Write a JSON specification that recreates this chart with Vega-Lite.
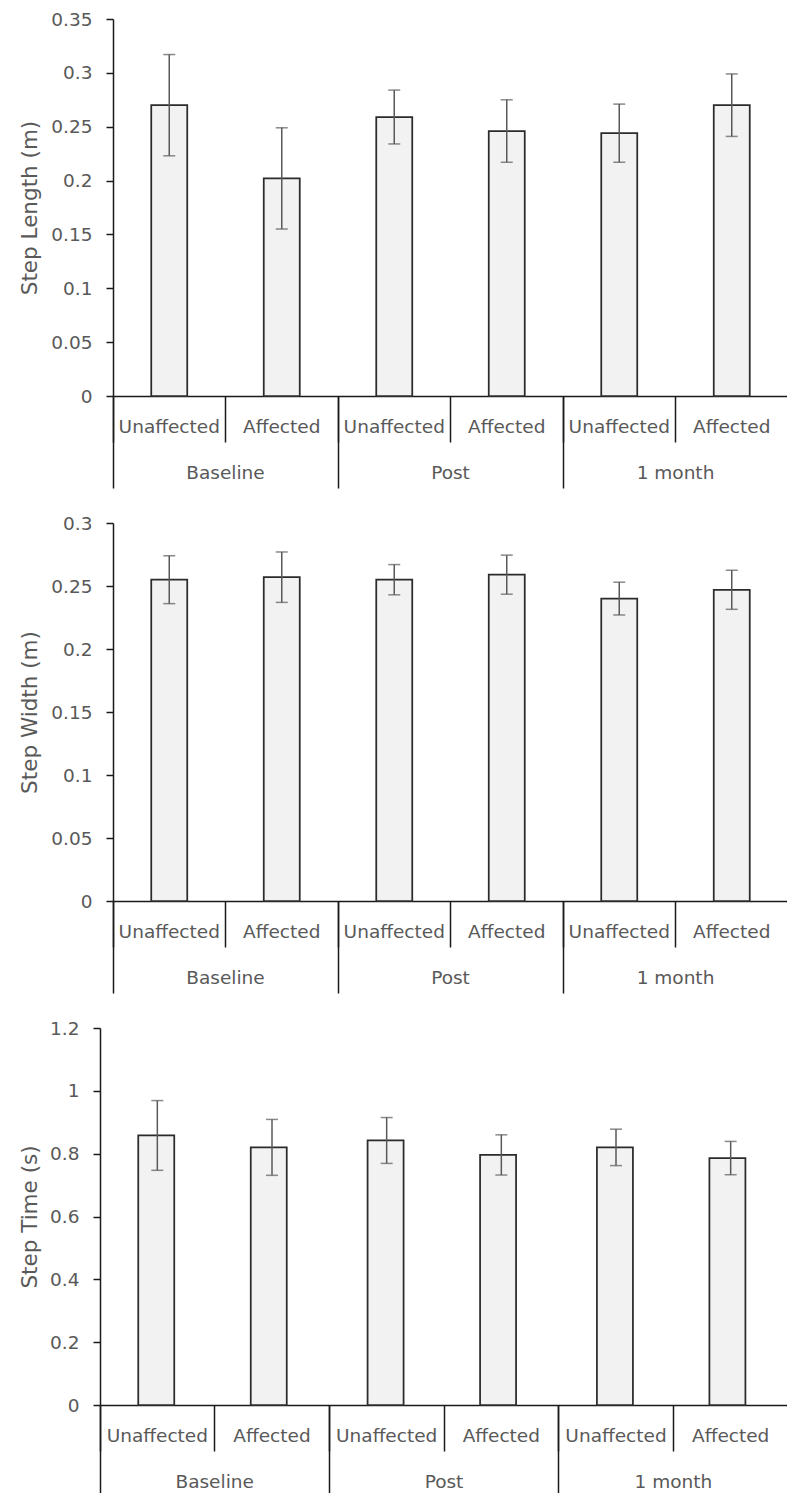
{
  "$schema": "https://vega.github.io/schema/vega-lite/v6.json",
  "padding": {"left": 19, "top": 10, "right": 0, "bottom": 0},
  "datasets": {
    "length": [
      {"time": "Baseline", "side": "Unaffected", "cond": "Baseline/Unaffected", "mean": 0.270, "err": 0.047},
      {"time": "Baseline", "side": "Affected", "cond": "Baseline/Affected", "mean": 0.202, "err": 0.047},
      {"time": "Post", "side": "Unaffected", "cond": "Post/Unaffected", "mean": 0.259, "err": 0.025},
      {"time": "Post", "side": "Affected", "cond": "Post/Affected", "mean": 0.246, "err": 0.029},
      {"time": "1 month", "side": "Unaffected", "cond": "1 month/Unaffected", "mean": 0.244, "err": 0.027},
      {"time": "1 month", "side": "Affected", "cond": "1 month/Affected", "mean": 0.270, "err": 0.029}
    ],
    "width": [
      {"time": "Baseline", "side": "Unaffected", "cond": "Baseline/Unaffected", "mean": 0.255, "err": 0.019},
      {"time": "Baseline", "side": "Affected", "cond": "Baseline/Affected", "mean": 0.257, "err": 0.020},
      {"time": "Post", "side": "Unaffected", "cond": "Post/Unaffected", "mean": 0.255, "err": 0.012},
      {"time": "Post", "side": "Affected", "cond": "Post/Affected", "mean": 0.259, "err": 0.0155},
      {"time": "1 month", "side": "Unaffected", "cond": "1 month/Unaffected", "mean": 0.240, "err": 0.013},
      {"time": "1 month", "side": "Affected", "cond": "1 month/Affected", "mean": 0.247, "err": 0.0155}
    ],
    "steptime": [
      {"time": "Baseline", "side": "Unaffected", "cond": "Baseline/Unaffected", "mean": 0.858, "err": 0.111},
      {"time": "Baseline", "side": "Affected", "cond": "Baseline/Affected", "mean": 0.820, "err": 0.089},
      {"time": "Post", "side": "Unaffected", "cond": "Post/Unaffected", "mean": 0.842, "err": 0.073},
      {"time": "Post", "side": "Affected", "cond": "Post/Affected", "mean": 0.796, "err": 0.064},
      {"time": "1 month", "side": "Unaffected", "cond": "1 month/Unaffected", "mean": 0.820, "err": 0.058},
      {"time": "1 month", "side": "Affected", "cond": "1 month/Affected", "mean": 0.786, "err": 0.053}
    ]
  },
  "spacing": 25,
  "vconcat": [
    {
      "width": 688, "height": 377,
      "data": {"name": "length"},
      "layer": [
        {
          "mark": {"type": "bar", "fill": "#f2f2f2", "stroke": "#2b2b2b", "strokeWidth": 1.75},
          "encoding": {
            "x": {"field": "time", "type": "nominal", "sort": ["Baseline", "Post", "1 month"],
              "scale": {"paddingInner": 0, "paddingOuter": 0, "range": [13, 688]},
              "axis": {"title": null, "orient": "bottom", "labelAngle": 0, "domain": true, "bandPosition": 0, "tickSize": 92, "labelPadding": -25, "labelOverlap": false}},
            "xOffset": {"field": "side", "type": "nominal", "sort": ["Unaffected", "Affected"], "scale": {"paddingInner": 0.68, "paddingOuter": 0.34}},
            "y": {"field": "mean", "type": "quantitative", "title": "Step Length (m)",
              "scale": {"domain": [0, 0.35], "nice": false},
              "axis": {"values": [0, 0.05, 0.1, 0.15, 0.2, 0.25, 0.3, 0.35], "format": "~g", "grid": false, "offset": -13, "minExtent": 68, "maxExtent": 68}}
          }
        },
        {
          "mark": {"type": "errorbar", "color": "#595959", "ticks": {"size": 12, "thickness": 1.5, "color": "#595959"}, "rule": {"strokeWidth": 1.5, "color": "#595959"}},
          "encoding": {
            "x": {"field": "cond", "type": "nominal", "sort": null,
              "scale": {"paddingInner": 0, "paddingOuter": 0, "range": [13, 688]},
              "axis": {"title": null, "orient": "bottom", "labelAngle": 0, "domain": false, "bandPosition": 0, "tickSize": 46, "labelPadding": -25, "labelOverlap": false, "labelExpr": "split(datum.value, '/')[1]"}},
            "y": {"field": "mean", "type": "quantitative", "title": "Step Length (m)"},
            "yError": {"field": "err"}
          }
        }
      ],
      "resolve": {"scale": {"x": "independent"}, "axis": {"x": "independent"}}
    },
    {
      "width": 688, "height": 378,
      "data": {"name": "width"},
      "layer": [
        {
          "mark": {"type": "bar", "fill": "#f2f2f2", "stroke": "#2b2b2b", "strokeWidth": 1.75},
          "encoding": {
            "x": {"field": "time", "type": "nominal", "sort": ["Baseline", "Post", "1 month"],
              "scale": {"paddingInner": 0, "paddingOuter": 0, "range": [13, 688]},
              "axis": {"title": null, "orient": "bottom", "labelAngle": 0, "domain": true, "bandPosition": 0, "tickSize": 92, "labelPadding": -25, "labelOverlap": false}},
            "xOffset": {"field": "side", "type": "nominal", "sort": ["Unaffected", "Affected"], "scale": {"paddingInner": 0.68, "paddingOuter": 0.34}},
            "y": {"field": "mean", "type": "quantitative", "title": "Step Width (m)",
              "scale": {"domain": [0, 0.3], "nice": false},
              "axis": {"values": [0, 0.05, 0.1, 0.15, 0.2, 0.25, 0.3], "format": "~g", "grid": false, "offset": -13, "minExtent": 68, "maxExtent": 68}}
          }
        },
        {
          "mark": {"type": "errorbar", "color": "#595959", "ticks": {"size": 12, "thickness": 1.5, "color": "#595959"}, "rule": {"strokeWidth": 1.5, "color": "#595959"}},
          "encoding": {
            "x": {"field": "cond", "type": "nominal", "sort": null,
              "scale": {"paddingInner": 0, "paddingOuter": 0, "range": [13, 688]},
              "axis": {"title": null, "orient": "bottom", "labelAngle": 0, "domain": false, "bandPosition": 0, "tickSize": 46, "labelPadding": -25, "labelOverlap": false, "labelExpr": "split(datum.value, '/')[1]"}},
            "y": {"field": "mean", "type": "quantitative", "title": "Step Width (m)"},
            "yError": {"field": "err"}
          }
        }
      ],
      "resolve": {"scale": {"x": "independent"}, "axis": {"x": "independent"}}
    },
    {
      "width": 688, "height": 377,
      "data": {"name": "steptime"},
      "layer": [
        {
          "mark": {"type": "bar", "fill": "#f2f2f2", "stroke": "#2b2b2b", "strokeWidth": 1.75},
          "encoding": {
            "x": {"field": "time", "type": "nominal", "sort": ["Baseline", "Post", "1 month"],
              "scale": {"paddingInner": 0, "paddingOuter": 0},
              "axis": {"title": null, "orient": "bottom", "labelAngle": 0, "domain": true, "bandPosition": 0, "tickSize": 92, "labelPadding": -25, "labelOverlap": false}},
            "xOffset": {"field": "side", "type": "nominal", "sort": ["Unaffected", "Affected"], "scale": {"paddingInner": 0.68, "paddingOuter": 0.34}},
            "y": {"field": "mean", "type": "quantitative", "title": "Step Time (s)",
              "scale": {"domain": [0, 1.2], "nice": false},
              "axis": {"values": [0, 0.2, 0.4, 0.6, 0.8, 1, 1.2], "format": "~g", "grid": false, "minExtent": 55, "maxExtent": 55}}
          }
        },
        {
          "mark": {"type": "errorbar", "color": "#595959", "ticks": {"size": 12, "thickness": 1.5, "color": "#595959"}, "rule": {"strokeWidth": 1.5, "color": "#595959"}},
          "encoding": {
            "x": {"field": "cond", "type": "nominal", "sort": null,
              "scale": {"paddingInner": 0, "paddingOuter": 0},
              "axis": {"title": null, "orient": "bottom", "labelAngle": 0, "domain": false, "bandPosition": 0, "tickSize": 46, "labelPadding": -25, "labelOverlap": false, "labelExpr": "split(datum.value, '/')[1]"}},
            "y": {"field": "mean", "type": "quantitative", "title": "Step Time (s)"},
            "yError": {"field": "err"}
          }
        }
      ],
      "resolve": {"scale": {"x": "independent"}, "axis": {"x": "independent"}}
    }
  ],
  "config": {
    "view": {"stroke": null},
    "font": "DejaVu Sans",
    "axis": {
      "labelFont": "DejaVu Sans", "labelFontSize": 18.5, "labelColor": "#595959",
      "titleFont": "DejaVu Sans", "titleFontSize": 21.5, "titleColor": "#595959", "titleFontWeight": "normal",
      "domainColor": "#1a1a1a", "domainWidth": 1.5, "tickColor": "#1a1a1a", "tickWidth": 1.5
    },
    "axisY": {"tickSize": 7, "labelPadding": 14, "titlePadding": 4}
  }
}
